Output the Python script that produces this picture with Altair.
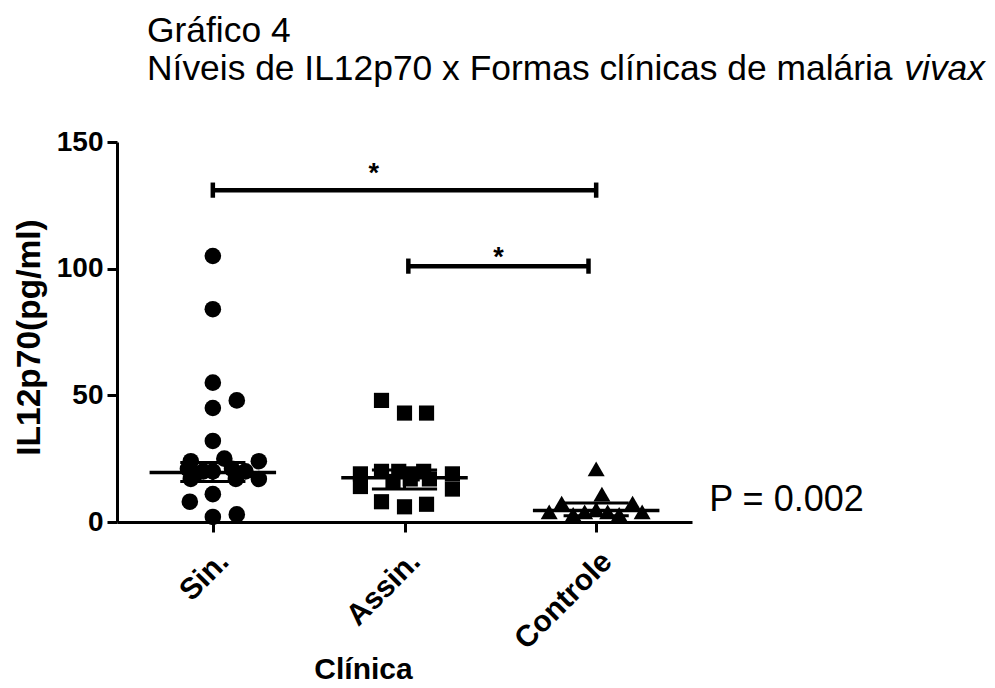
import json
import altair as alt
import pandas as pd

FONT = "Liberation Sans"

groups = ["Sin.", "Assin.", "Controle"]

sin_values = [105, 84, 55, 48, 45, 32, 24, 25, 24, 21, 20, 20, 21, 20, 19, 17, 17, 17, 11, 8, 2, 3]
sin_offsets = [0, 0, 0, 0.125, 0, 0, -0.115, 0.06, 0.24, -0.13, -0.05, 0, 0.1, 0.17, -0.09, -0.115, 0.12, 0.24, 0, -0.12, 0, 0.125]

assin_values = [48, 43, 43, 19, 14, 20, 20, 19, 20, 17, 19, 13, 16, 8, 6, 7, 17]
assin_offsets = [-0.12, 0, 0.115, -0.23, -0.23, -0.12, -0.03, 0.04, 0.1, 0.13, 0.25, 0.25, -0.06, -0.12, 0, 0.115, 0.03]

controle_values = [21, 11, 4, 7.5, 7.5, 4, 3, 4, 4, 3, 5]
controle_offsets = [0, 0.03, -0.245, -0.18, 0.19, 0.24, -0.12, -0.06, 0.06, 0.12, 0]

medians = [19.5, 17.5, 4.5]
lower_caps = [16, 13, 2.5]
upper_caps = [23.5, 20.5, 7.5]

bracket_start = [0.0, 1.02]
bracket_end = [2.0, 1.96]
bracket_y = [131, 101]
star_x = [0.84, 1.49]
star_y = [134.2, 101.2]
star_text = ["*", "*"]

p_text = "P = 0.002"
title_line1 = "Gráfico 4"
title_line2 = "Níveis de IL12p70 x Formas clínicas de malária "
title_italic = "vivax"

rows = []
for gi, (vals, offs) in enumerate([(sin_values, sin_offsets), (assin_values, assin_offsets), (controle_values, controle_offsets)]):
    for v, o in zip(vals, offs):
        rows.append({"group": groups[gi], "idx": gi, "value": v, "xpos": gi + o})
pts = pd.DataFrame(rows)

summ = pd.DataFrame({"idx": [0, 1, 2], "median": medians, "lower": lower_caps, "upper": upper_caps})
brk = pd.DataFrame({"x1": bracket_start, "x2": bracket_end, "y": bracket_y})
stars = pd.DataFrame({"x": star_x, "y": star_y, "t": star_text})
ptab = pd.DataFrame({"x": [2.59], "y": [8.7], "t": [p_text]})

xscale = alt.Scale(domain=[-0.5, 2.5], nice=False, zero=False)
yscale = alt.Scale(domain=[0, 150], nice=False)

xaxis = alt.Axis(
    values=[0, 1, 2],
    labelExpr=f"{json.dumps(groups)}[datum.value]",
    labelAngle=-45, labelAlign="right", labelBaseline="top",
    labelFont=FONT, labelFontSize=30, labelFontWeight="bold",
    labelColor="black", labelPadding=14,
    domainColor="black", domainWidth=3, tickColor="black", tickWidth=3, tickSize=10,
    grid=False, title="Clínica", titleFont=FONT, titleFontSize=30, titleFontWeight="bold",
    titleColor="black", titleX=246, titleY=156, titleBaseline="alphabetic", titleAlign="center",
)
yaxis = alt.Axis(
    values=[0, 50, 100, 150],
    labelFont=FONT, labelFontSize=28, labelFontWeight="bold", labelColor="black", labelPadding=4,
    domainColor="black", domainWidth=3, tickColor="black", tickWidth=3, tickSize=10,
    grid=False, title="IL12p70(pg/ml)", titleFont=FONT, titleFontSize=33.5, titleFontWeight="bold",
    titleColor="black", titleX=-88, titleY=195, titleAngle=-90, titleBaseline="middle", titleAlign="center",
)


def X(f):
    return alt.X(f, type="quantitative", scale=xscale, axis=xaxis)


def Y(f):
    return alt.Y(f, type="quantitative", scale=yscale, axis=yaxis)


base_pts = alt.Chart(pts)
shapes = ["circle", "square", "triangle-up"]
sizes = [275, 230, 290]
point_layers = [
    base_pts.transform_filter(alt.datum.idx == i)
    .mark_point(filled=True, opacity=1, color="black", shape=shapes[i], size=sizes[i])
    .encode(x=X("xpos"), y=Y("value"))
    for i in range(3)
]

sbase = alt.Chart(summ).transform_calculate(
    mx1="datum.idx - 0.33", mx2="datum.idx + 0.33",
    cx1="datum.idx - 0.17", cx2="datum.idx + 0.17",
)
median_rule = sbase.mark_rule(color="black", strokeWidth=3.5).encode(x=X("mx1:Q"), x2="mx2:Q", y=Y("median:Q"))
lower_rule = sbase.mark_rule(color="black", strokeWidth=3).encode(x=X("cx1:Q"), x2="cx2:Q", y=Y("lower:Q"))
upper_rule = sbase.mark_rule(color="black", strokeWidth=3).encode(x=X("cx1:Q"), x2="cx2:Q", y=Y("upper:Q"))
vert_rule = sbase.mark_rule(color="black", strokeWidth=3).encode(x=X("idx:Q"), y=Y("lower:Q"), y2="upper:Q")

bbase = alt.Chart(brk).transform_calculate(ylo="datum.y - 3", yhi="datum.y + 3")
br_h = bbase.mark_rule(color="black", strokeWidth=4.5).encode(x=X("x1:Q"), x2="x2:Q", y=Y("y:Q"))
br_l = bbase.mark_rule(color="black", strokeWidth=4.5).encode(x=X("x1:Q"), y=Y("ylo:Q"), y2="yhi:Q")
br_r = bbase.mark_rule(color="black", strokeWidth=4.5).encode(x=X("x2:Q"), y=Y("ylo:Q"), y2="yhi:Q")

star_layer = alt.Chart(stars).mark_text(font=FONT, fontSize=27, fontWeight="bold", color="black",
                                         baseline="alphabetic", align="center").encode(
    x=X("x:Q"), y=Y("y:Q"), text="t:N")

p_layer = alt.Chart(ptab).mark_text(font=FONT, fontSize=36, color="black", align="left",
                                     baseline="middle").encode(x=X("x:Q"), y=Y("y:Q"), text="t:N")

TFS = 35.4
t1 = alt.Chart(pd.DataFrame({"t": [title_line1]})).mark_text(
    font=FONT, fontSize=TFS, color="black", align="left", baseline="alphabetic"
).encode(text="t:N", x=alt.value(30), y=alt.value(-100))
t2 = alt.Chart(pd.DataFrame({"t": [title_line2]})).mark_text(
    font=FONT, fontSize=TFS, color="black", align="left", baseline="alphabetic"
).encode(text="t:N", x=alt.value(30), y=alt.value(-62))
t3 = alt.Chart(pd.DataFrame({"t": [title_italic]})).mark_text(
    font=FONT, fontSize=TFS, fontStyle="italic", color="black", align="right", baseline="alphabetic"
).encode(text="t:N", x=alt.value(868), y=alt.value(-62))

chart = alt.layer(
    median_rule, lower_rule, upper_rule, vert_rule,
    br_h, br_l, br_r, star_layer, p_layer,
    *point_layers, t1, t2, t3,
).properties(
    width=575, height=380,
    padding={"left": 117, "top": 142, "right": 303, "bottom": 166},
    autosize=alt.AutoSizeParams(type="none"),
    background="white",
).configure_view(stroke=None)

chart.save("out.html", embed_options={"renderer": "svg", "actions": False})
